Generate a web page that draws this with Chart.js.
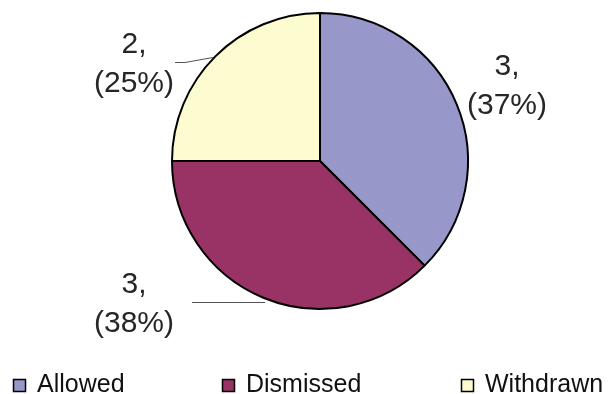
<!DOCTYPE html>
<html>
<head>
<meta charset="utf-8">
<script src="https://cdn.jsdelivr.net/npm/chart.js@4/dist/chart.umd.min.js"></script>
<style>
  html, body { margin: 0; padding: 0; background: #fff; }
  #wrap { width: 608px; height: 394px; position: relative; }
</style>
</head>
<body>
<div id="wrap"><canvas id="pieChart" width="608" height="394"></canvas></div>
<script>
const categories = ["Allowed", "Dismissed", "Withdrawn"];
const counts = [3, 3, 2];
const percents = [37, 38, 25]; // as printed on the chart
const colors = ["#9797CA", "#993366", "#FDFBD0"];

// label placement relative to pie centre (px), plus optional leader line
const labelSpots = [
  { dx: 187, dy: -86, leader: null },
  { dx: -186, dy: 132, leader: [[-128, 141], [-55, 141]] },
  { dx: -186, dy: -108, leader: [[-145, -99], [-135, -99], [-107, -104]] }
];

const labelPlugin = {
  id: "sliceLabels",
  afterDraw(chart) {
    const ctx = chart.ctx;
    const arcs = chart.getDatasetMeta(0).data;
    const cx = arcs[0].x, cy = arcs[0].y;
    ctx.save();
    ctx.font = "30px 'Liberation Sans', Arial, sans-serif";
    ctx.fillStyle = "#262626";
    ctx.textAlign = "center";
    ctx.textBaseline = "alphabetic";
    counts.forEach((v, i) => {
      const s = labelSpots[i];
      ctx.fillText(v + ",", cx + s.dx, cy + s.dy);
      ctx.fillText("(" + percents[i] + "%)", cx + s.dx, cy + s.dy + 39);
      if (s.leader) {
        ctx.strokeStyle = "#555";
        ctx.lineWidth = 1.2;
        ctx.beginPath();
        s.leader.forEach((p, k) => {
          if (k === 0) ctx.moveTo(cx + p[0], cy + p[1] + 0.5);
          else ctx.lineTo(cx + p[0], cy + p[1] + 0.5);
        });
        ctx.stroke();
      }
    });

    // legend along the bottom
    const legendX = [13, 222, 461];
    ctx.font = "25px 'Liberation Sans', Arial, sans-serif";
    ctx.textAlign = "left";
    categories.forEach((c, i) => {
      ctx.fillStyle = colors[i];
      ctx.fillRect(legendX[i] + 0.5, 379.5, 12, 12);
      ctx.strokeStyle = "#000";
      ctx.lineWidth = 1.5;
      ctx.strokeRect(legendX[i] + 0.5, 379.5, 12, 12);
      ctx.fillStyle = "#111";
      ctx.fillText(c, legendX[i] + 24, 392);
    });
    ctx.restore();
  }
};

new Chart(document.getElementById("pieChart"), {
  type: "pie",
  data: {
    labels: categories,
    datasets: [{
      data: counts,
      backgroundColor: colors,
      borderColor: "#000",
      borderWidth: 2
    }]
  },
  options: {
    responsive: false,
    animation: false,
    layout: { padding: { left: 171, right: 139, top: 12, bottom: 84 } },
    plugins: {
      legend: { display: false },
      tooltip: { enabled: false }
    }
  },
  plugins: [labelPlugin]
});
</script>
</body>
</html>
